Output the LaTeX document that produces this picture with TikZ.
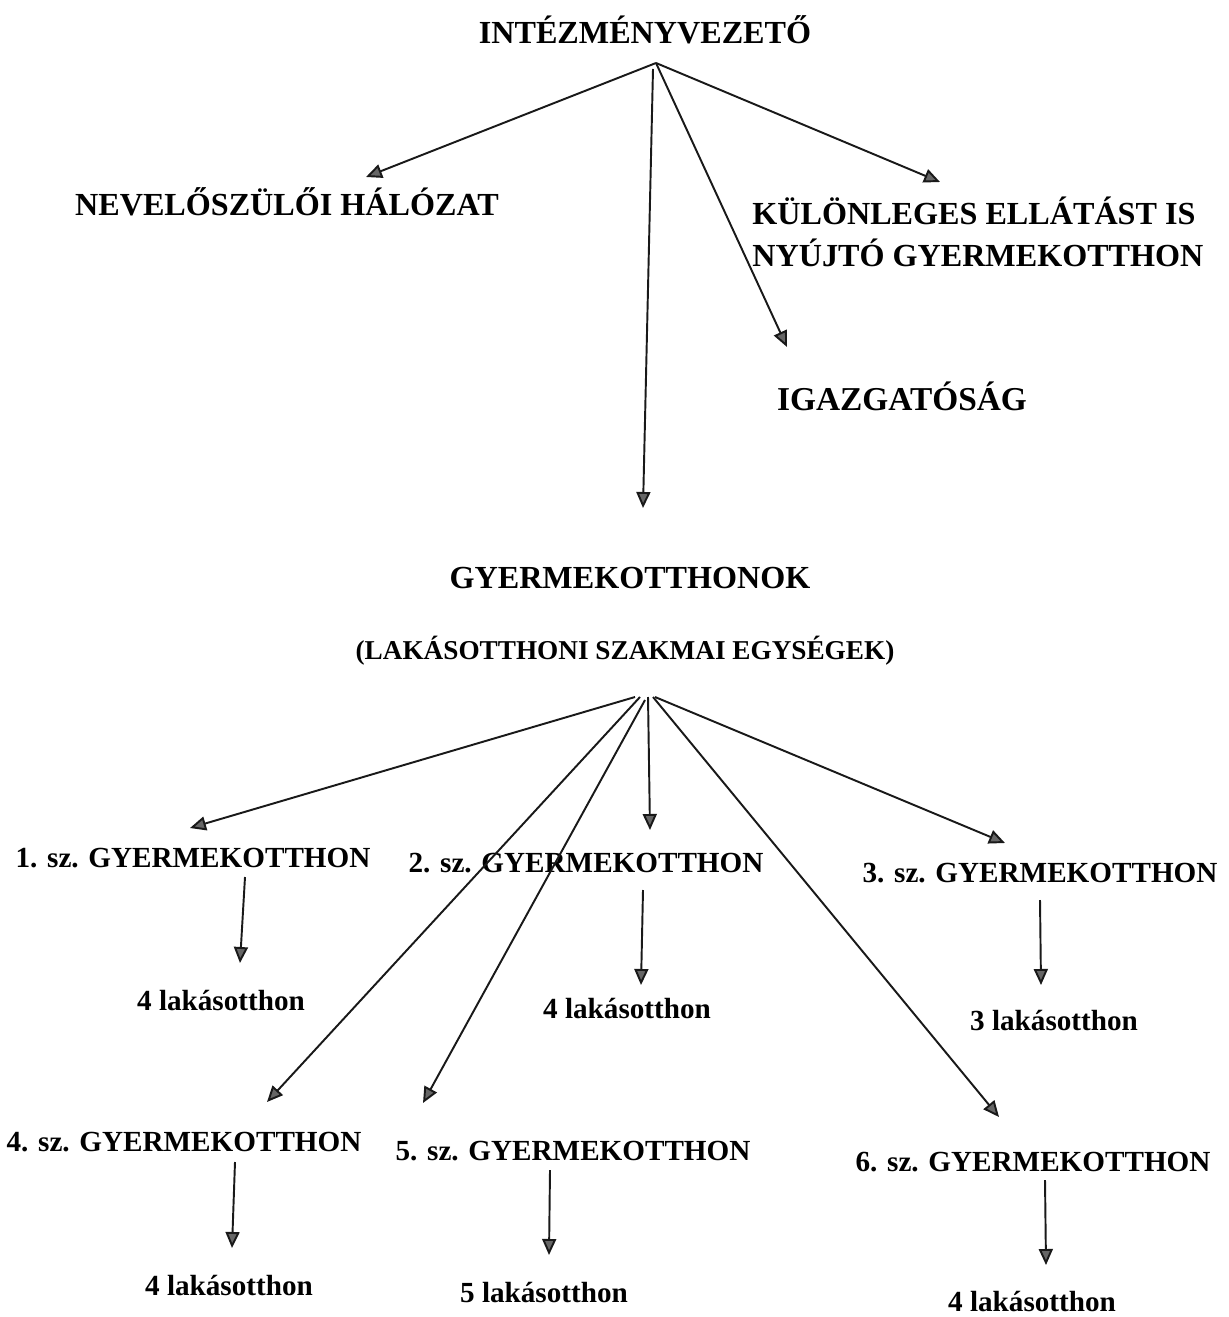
\documentclass[tikz,border=0pt]{standalone}
\usepackage{fontspec}
\setmainfont{Liberation Serif}
\usepackage{tikz}
\usetikzlibrary{arrows.meta,positioning,calc}

\begin{document}
\begin{tikzpicture}[
  x=0.02cm, y=-0.02cm,
  lbl/.style={font=\fontsize{16.6}{24}\selectfont\bfseries, inner sep=0pt, text height=12pt, text depth=0pt},
  big/.style={lbl, font=\fontsize{18.3}{24}\selectfont\bfseries},
  sub/.style={font=\fontsize{15.5}{20}\selectfont\bfseries, inner sep=0pt, text height=11pt, text depth=0pt},
  arrow/.style={-{Triangle[length=0.32cm, width=0.28cm, fill=black!60]}, line width=1.1pt, draw=black!90}
]
\useasboundingbox[fill=white] (0,0) rectangle (1228,1317);

\node[big] (head) at (645, 33) {INTÉZMÉNYVEZETŐ};
\node[big] (nev) at (287, 205) {NEVELŐSZÜLŐI HÁLÓZAT};
\node[font=\fontsize{18.3}{24}\selectfont\bfseries, inner sep=0pt, align=left, anchor=west] (kul) at (752, 232) {KÜLÖNLEGES ELLÁTÁST IS\\NYÚJTÓ GYERMEKOTTHON};
\node[big, font=\fontsize{19}{24}\selectfont\bfseries] (igaz) at (902, 400) {IGAZGATÓSÁG};

\node[big] (gyo) at (630, 578) {GYERMEKOTTHONOK};
\node[sub] (lak) at (625, 650) {(LAKÁSOTTHONI SZAKMAI EGYSÉGEK)};

\node[lbl] (g1) at (193, 857) {1. sz. GYERMEKOTTHON};
\node[lbl] (g2) at (586, 862) {2. sz. GYERMEKOTTHON};
\node[lbl] (g3) at (1040, 872) {3. sz. GYERMEKOTTHON};
\node[lbl] (l1) at (221, 1000) {4 lakásotthon};
\node[lbl] (l2) at (627, 1008) {4 lakásotthon};
\node[lbl] (l3) at (1054, 1020) {3 lakásotthon};

\node[lbl] (g4) at (184, 1141) {4. sz. GYERMEKOTTHON};
\node[lbl] (g5) at (573, 1150) {5. sz. GYERMEKOTTHON};
\node[lbl] (g6) at (1033, 1161) {6. sz. GYERMEKOTTHON};
\node[lbl] (l4) at (229, 1285) {4 lakásotthon};
\node[lbl] (l5) at (544, 1292) {5 lakásotthon};
\node[lbl] (l6) at (1032, 1301) {4 lakásotthon};

% fan origins
\coordinate (topfan) at ([shift={(11,30)}]head.center);
\coordinate (botfan) at ([shift={(20,47)}]lak.center);

\draw[arrow] (topfan) -- ([shift={(79,-28)}]nev.center);
\draw[arrow] (topfan) -- ([shift={(188,-50)}]kul.west);
\draw[arrow] (topfan) -- ([shift={(-115,-53)}]igaz.center);
\draw[arrow] ([shift={(-3,6)}]topfan) -- ([shift={(13,-70)}]gyo.center);

\draw[arrow] ([shift={(-10,0)}]botfan) -- ([shift={(-3,-29)}]g1.center);
\draw[arrow] ([shift={(-5,0)}]botfan) -- ([shift={(83,-39)}]g4.center);
\draw[arrow] ([shift={(0,3)}]botfan) -- ([shift={(-150,-47)}]g5.center);
\draw[arrow] ([shift={(3,0)}]botfan) -- ([shift={(64,-32)}]g2.center);
\draw[arrow] ([shift={(8,0)}]botfan) -- ([shift={(-34,-44)}]g6.center);
\draw[arrow] ([shift={(10,0)}]botfan) -- ([shift={(-35,-29)}]g3.center);

\draw[arrow] ([shift={(52,20)}]g1.center) -- ([shift={(19,-37)}]l1.center);
\draw[arrow] ([shift={(57,28)}]g2.center) -- ([shift={(14,-23)}]l2.center);
\draw[arrow] ([shift={(0,28)}]g3.center) -- ([shift={(-13,-35)}]l3.center);
\draw[arrow] ([shift={(51,21)}]g4.center) -- ([shift={(3,-37)}]l4.center);
\draw[arrow] ([shift={(-23,20)}]g5.center) -- ([shift={(5,-37)}]l5.center);
\draw[arrow] ([shift={(12,19)}]g6.center) -- ([shift={(14,-36)}]l6.center);

\end{tikzpicture}
\end{document}
